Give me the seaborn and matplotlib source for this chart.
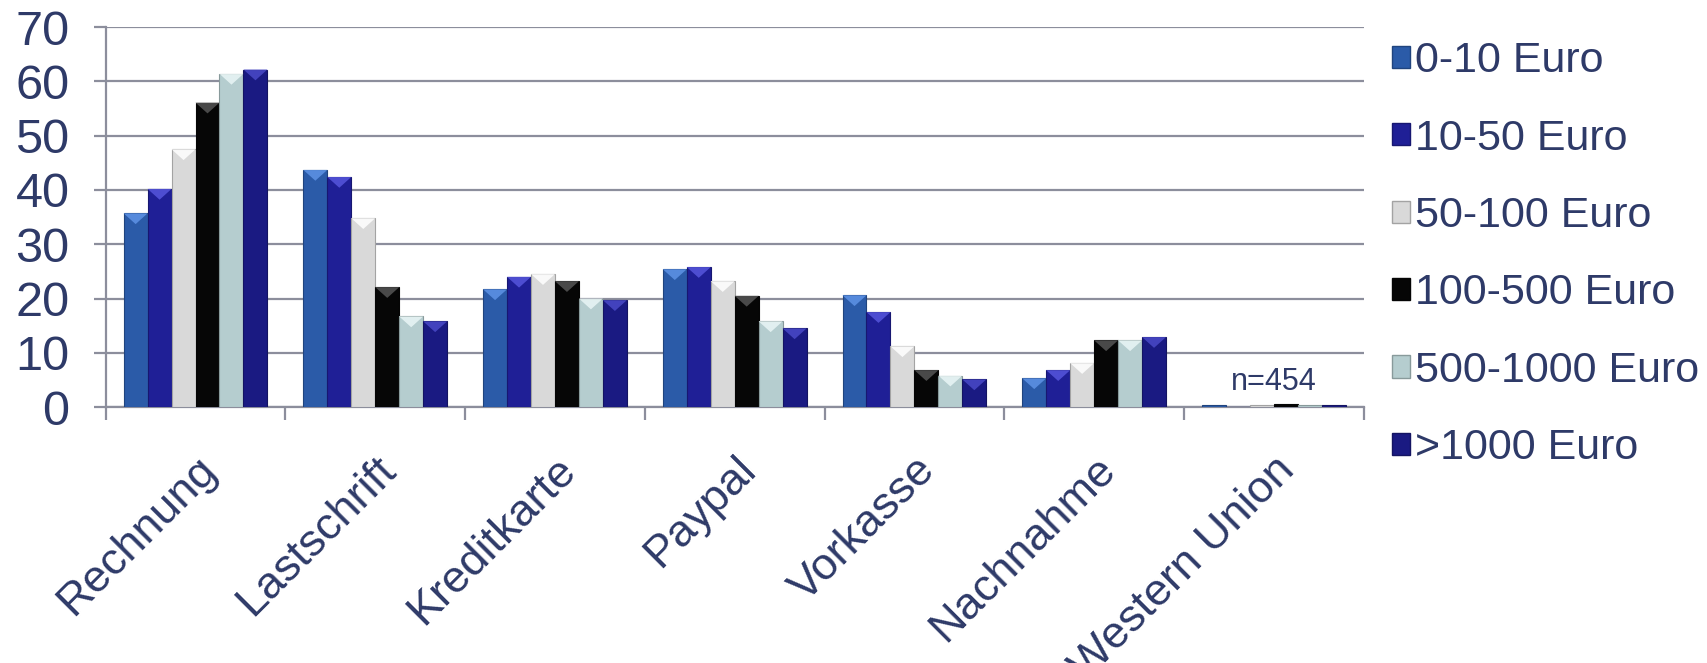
import numpy as np
import pandas as pd
import matplotlib
matplotlib.use("Agg")
import matplotlib.pyplot as plt
import matplotlib.colors as mcolors
from matplotlib.patches import Polygon, Patch
import seaborn as sns

# ---------------- data ----------------
categories = ["Rechnung", "Lastschrift", "Kreditkarte", "Paypal", "Vorkasse",
              "Nachnahme", "Western Union"]
series = ["0-10 Euro", "10-50 Euro", "50-100 Euro", "100-500 Euro",
          "500-1000 Euro", ">1000 Euro"]
v_0_10 = [35.7, 43.7, 21.7, 25.4, 20.6, 5.3, 0.4]
v_10_50 = [40.2, 42.4, 24.0, 25.8, 17.5, 6.8, 0.0]
v_50_100 = [47.5, 34.8, 24.5, 23.2, 11.2, 8.1, 0.4]
v_100_500 = [56.1, 22.1, 23.2, 20.5, 6.8, 12.3, 0.5]
v_500_1000 = [61.4, 16.7, 20.0, 15.8, 5.8, 12.3, 0.4]
v_1000 = [62.2, 15.8, 19.7, 14.5, 5.1, 12.9, 0.4]
y_ticks = [0, 10, 20, 30, 40, 50, 60, 70]
note = "n=454"

values = [v_0_10, v_10_50, v_50_100, v_100_500, v_500_1000, v_1000]
rows = []
for s, vals in zip(series, values):
    for c, v in zip(categories, vals):
        rows.append({"Zahlungsart": c, "Betrag": s, "Anteil": v})
df = pd.DataFrame(rows)

# ---------------- style ----------------
colors = ["#2B5BA8", "#1F1F96", "#D9D9D9", "#060606", "#B5CDCF", "#1A1A82"]
tops = ["#5E93E6", "#5656DC", "#FFFFFF", "#555555", "#EAF6F6", "#4A4AC8"]
text_color = "#2E3A68"
grid_color = "#8C8E9C"

sns.set_theme(style="white")
plt.rcParams["font.family"] = ["Liberation Sans", "DejaVu Sans"]

fig = plt.figure(figsize=(17.07, 6.63), dpi=100)
ax = fig.add_axes([0.0619, 0.386, 0.737, 0.573])

sns.barplot(data=df, x="Zahlungsart", y="Anteil", hue="Betrag",
            order=categories, hue_order=series, palette=colors,
            width=0.8, gap=0, saturation=1, legend=False, ax=ax,
            linewidth=0.8, zorder=3)

ax.set_ylim(0, 70)
ax.set_xlim(-0.5, len(categories) - 0.5)

# bevel highlight on top of each bar, derived from bar geometry
fig.canvas.draw()
px_per_y = ax.transData.transform((0, 1))[1] - ax.transData.transform((0, 0))[1]
for p in list(ax.patches):
    h = p.get_height()
    x = p.get_x()
    w = p.get_width()
    fc = p.get_facecolor()
    idx = int(np.argmin([np.sum((np.array(mcolors.to_rgba(c)) - np.array(fc)) ** 2)
                         for c in colors]))
    p.set_edgecolor(tuple(np.array(mcolors.to_rgb(colors[idx])) * 0.75))
    if h < 1.5:
        continue
    w_px = ax.transData.transform((x + w, 0))[0] - ax.transData.transform((x, 0))[0]
    tri_h = 0.45 * w_px / px_per_y
    tri = Polygon([(x, h), (x + w, h), (x + w / 2, h - tri_h)],
                  closed=True, facecolor=tops[idx], edgecolor="none",
                  alpha=0.85, zorder=4)
    ax.add_patch(tri)

# axes styling
for s in ["top", "right"]:
    ax.spines[s].set_visible(False)
for s in ["left", "bottom"]:
    ax.spines[s].set_color(grid_color)
    ax.spines[s].set_linewidth(1.6)
ax.set_yticks(y_ticks)
ax.yaxis.grid(True, color=grid_color, linewidth=1.6, zorder=0)
ax.set_axisbelow(True)
ax.tick_params(axis="y", length=9, width=1.6, color=grid_color, pad=17,
               labelsize=35, labelcolor=text_color, left=True)

ax.set_xticks(np.arange(-0.5, len(categories), 1.0))
ax.set_xticklabels([])
ax.set_xticks(np.arange(len(categories)), minor=True)
ax.set_xticklabels(categories, minor=True, rotation=45, ha="right",
                   va="top", rotation_mode="anchor")
ax.tick_params(axis="x", which="major", length=9, width=1.6, color=grid_color,
               bottom=True)
ax.tick_params(axis="x", which="minor", length=0, pad=30, labelsize=32.5,
               labelcolor=text_color)
ax.set_xlabel("")
ax.set_ylabel("")

ax.text(len(categories) - 1, 4.6, note, ha="center", va="center",
        fontsize=22, color=text_color)

handles = [Patch(facecolor=c, edgecolor=tuple(np.array(mcolors.to_rgb(c)) * 0.75))
           for c in colors]
leg = fig.legend(handles, series, loc="upper left",
                 bbox_to_anchor=(0.8155, 0.938), frameon=False, fontsize=31,
                 handlelength=0.42, handleheight=0.42, handletextpad=0.12,
                 labelspacing=0.87, borderpad=0, borderaxespad=0)
for t in leg.get_texts():
    t.set_color(text_color)

fig.savefig("out.png", dpi=100, facecolor="white")
